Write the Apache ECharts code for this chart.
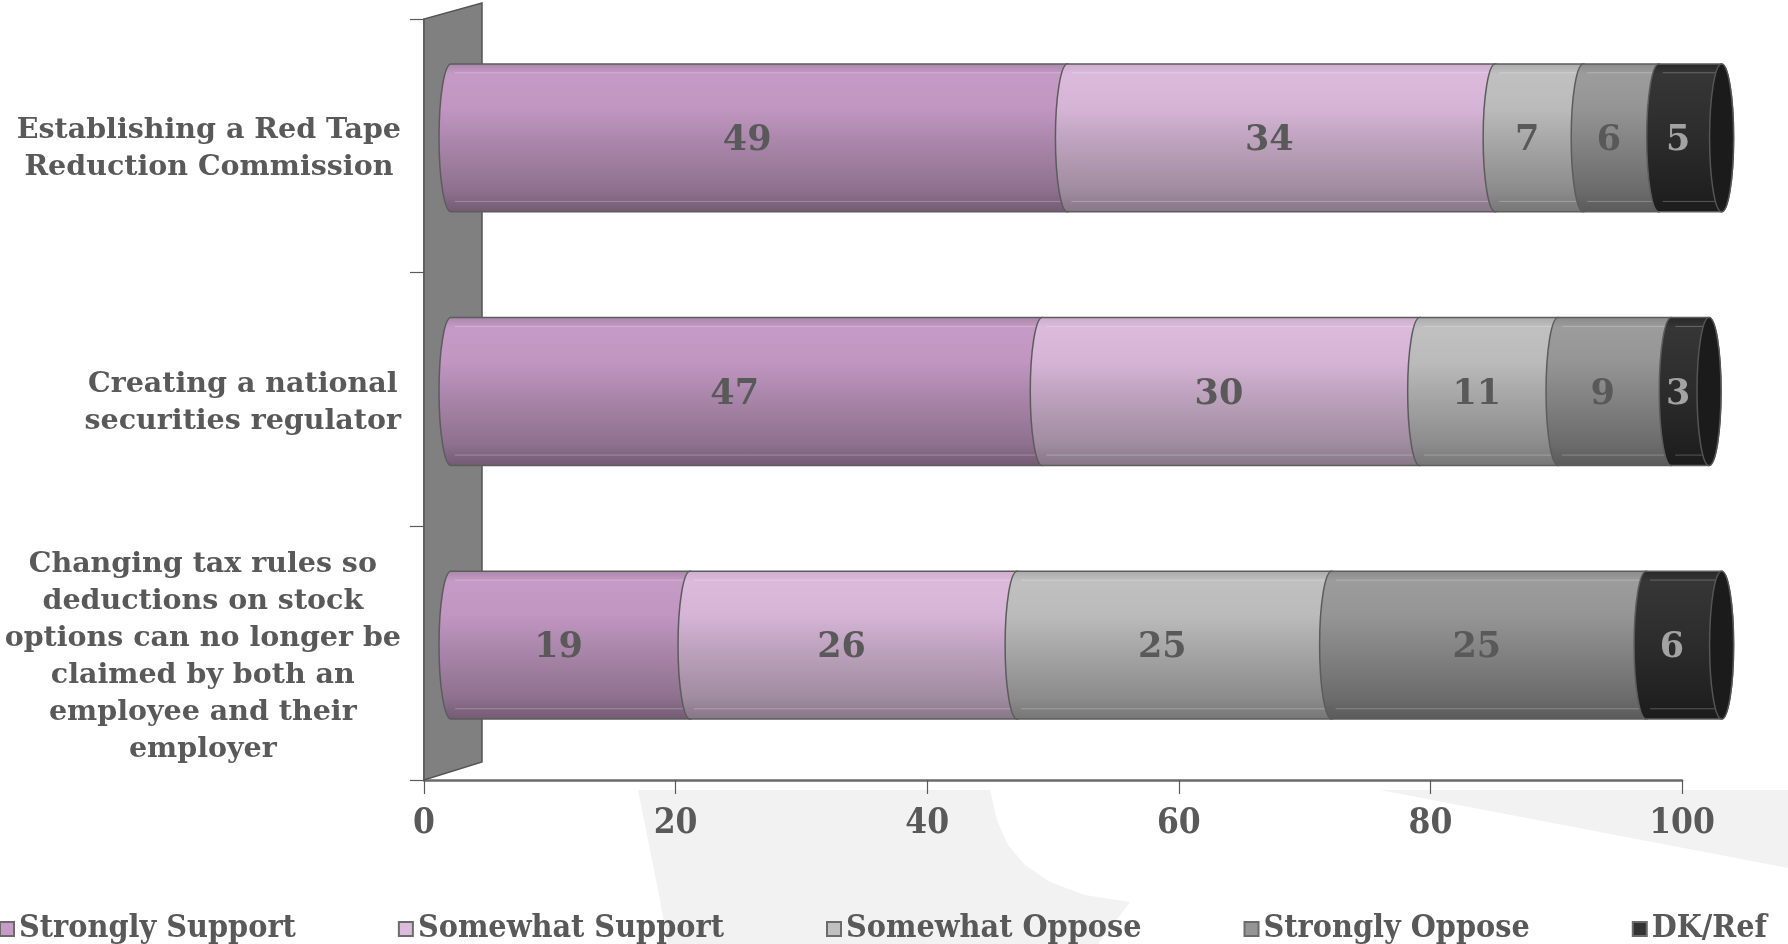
<!DOCTYPE html>
<html><head><meta charset="utf-8">
<script src="https://cdn.jsdelivr.net/npm/echarts@6/dist/echarts.min.js"></script>
<style>html,body{margin:0;padding:0;background:#fff}#c{width:1788px;height:944px}</style>
</head><body><div id="c"></div>
<script>
// ---- data ----
const categories = [
  'Establishing a Red Tape\nReduction Commission',
  'Creating a national\nsecurities regulator',
  'Changing tax rules so\ndeductions on stock\noptions can no longer be\nclaimed by both an\nemployee and their\nemployer'
];
const seriesNames = ['Strongly Support', 'Somewhat Support', 'Somewhat Oppose', 'Strongly Oppose', 'DK/Ref'];
const stronglySupport = [49, 47, 19];
const somewhatSupport = [34, 30, 26];
const somewhatOppose  = [7, 11, 25];
const stronglyOppose  = [6, 9, 25];
const dkRef           = [5, 3, 6];
const xMin = 0, xMax = 100, xStep = 20;

// ---- styles ----
const TXT = '#595959';
const CAT_FONT = "'DejaVu Serif', serif";
const COND_FONT = "'DejaVu Serif Condensed', 'DejaVu Serif', serif";
const legendColors = ['#c69cc6', '#dcbcdc', '#c0c0c0', '#959595', '#333333'];
const gradStops = [
  [[0,'#a886a8'],[0.07,'#c69ac6'],[0.3,'#c196c1'],[0.5,'#ad88ad'],[0.85,'#8e718e'],[1,'#735a73']],
  [[0,'#cbaecb'],[0.07,'#dcbadc'],[0.3,'#d6b4d6'],[0.5,'#c0a4c0'],[0.85,'#a08ca0'],[1,'#867686']],
  [[0,'#a9a9a9'],[0.07,'#c0c0c0'],[0.3,'#bbbbbb'],[0.5,'#a9a9a9'],[0.85,'#8c8c8c'],[1,'#767676']],
  [[0,'#8a8a8a'],[0.07,'#9c9c9c'],[0.3,'#959595'],[0.5,'#868686'],[0.85,'#6c6c6c'],[1,'#5a5a5a']],
  [[0,'#262626'],[0.07,'#363636'],[0.5,'#2c2c2c'],[1,'#1c1c1c']]
];
const labelColors = [TXT, TXT, TXT, TXT, '#a3a3a3'];
const DX = 27, DY = -8, RX = 12, BAR_RATIO = 0.583, LDX = 15, LDY = 3;
const K = 0.5523;

function mkGrad(stops){
  return new echarts.graphic.LinearGradient(0,0,0,1, stops.map(s=>({offset:s[0], color:s[1]})));
}

const allValues = [stronglySupport, somewhatSupport, somewhatOppose, stronglyOppose, dkRef];
const lastSeries = allValues.length - 1;

function makeRender(si){
  return function(params, api){
    const s = api.value(0), e = api.value(1), c = api.value(2), v = api.value(3);
    const p0 = api.coord([s, c]), p1 = api.coord([e, c]);
    const band = api.size([0, 1])[1];
    const hh = band * BAR_RATIO / 2;
    const x0 = p0[0] + DX, x1 = p1[0] + DX, yc = p0[1] + DY;
    const t = yc - hh, b = yc + hh;
    const path =
      `M${x0} ${t} L${x1} ${t} ` +
      `C${x1+RX*K} ${t} ${x1+RX} ${yc-hh*K} ${x1+RX} ${yc} ` +
      `C${x1+RX} ${yc+hh*K} ${x1+RX*K} ${b} ${x1} ${b} ` +
      `L${x0} ${b} ` +
      `C${x0-RX*K} ${b} ${x0-RX} ${yc+hh*K} ${x0-RX} ${yc} ` +
      `C${x0-RX} ${yc-hh*K} ${x0-RX*K} ${t} ${x0} ${t} Z`;
    const children = [{
      type: 'path', shape: { pathData: path },
      style: { fill: mkGrad(gradStops[si]), stroke: '#5c5c5c', lineWidth: 1.5 }
    }, {
      type: 'line', shape: { x1: x0 + 4, y1: t + hh*0.12, x2: x1 - 4, y2: t + hh*0.12 },
      style: { stroke: 'rgba(255,255,255,0.25)', lineWidth: 1 }
    }, {
      type: 'line', shape: { x1: x0 + 4, y1: b - hh*0.14, x2: x1 - 4, y2: b - hh*0.14 },
      style: { stroke: 'rgba(255,255,255,0.25)', lineWidth: 1 }
    }];
    if (si === lastSeries) {
      const cap =
        `M${x1} ${t} C${x1+RX*K} ${t} ${x1+RX} ${yc-hh*K} ${x1+RX} ${yc} ` +
        `C${x1+RX} ${yc+hh*K} ${x1+RX*K} ${b} ${x1} ${b} ` +
        `C${x1-RX*K} ${b} ${x1-RX} ${yc+hh*K} ${x1-RX} ${yc} ` +
        `C${x1-RX} ${yc-hh*K} ${x1-RX*K} ${t} ${x1} ${t} Z`;
      children.push({ type: 'path', shape: { pathData: cap },
        style: { fill: '#1b1b1b', stroke: '#555', lineWidth: 1.5 } });
    }
    children.push({
      type: 'text', x: (p0[0] + p1[0]) / 2 + LDX, y: yc + LDY,
      style: { text: String(v), fill: labelColors[si], fontFamily: CAT_FONT, fontWeight: 'bold',
               fontSize: 35, align: 'center', verticalAlign: 'middle' }
    });
    return { type: 'group', children };
  };
}

const cum = categories.map(() => 0);
const series = allValues.map((vals, si) => {
  const data = vals.map((v, ci) => { const s0 = cum[ci]; cum[ci] += v; return [s0, s0 + v, ci, v]; });
  return {
    type: 'custom', name: seriesNames[si], renderItem: makeRender(si), data,
    encode: { x: [0, 1], y: 2 }, z: 3 + si, silent: true,
    itemStyle: { color: legendColors[si], borderColor: '#6b6b6b', borderWidth: 1.5 }
  };
});

const chart = echarts.init(document.getElementById('c'), null, { renderer: 'canvas' });
const G = { left: 424, top: 19, right: 106, bottom: 164 };
const W = 1788, H = 944;
const gb = H - G.bottom;

chart.setOption({
  backgroundColor: '#ffffff',
  animation: false,
  grid: { left: G.left, top: G.top, right: G.right, bottom: G.bottom, containLabel: false },
  xAxis: {
    type: 'value', min: xMin, max: xMax, interval: xStep,
    axisLine: { show: true, lineStyle: { color: '#6b6b6b', width: 2.5 } },
    axisTick: { show: true, length: 14, lineStyle: { color: '#5a5a5a', width: 1.2 } },
    splitLine: { show: false },
    axisLabel: { margin: 26, color: TXT, fontFamily: COND_FONT, fontWeight: 'bold', fontSize: 35 }
  },
  yAxis: {
    type: 'category', data: categories, inverse: true,
    axisLine: { show: true, lineStyle: { color: '#5a5a5a', width: 1.5 } },
    axisTick: { show: true, length: 14, lineStyle: { color: '#5a5a5a', width: 1.2 } },
    axisLabel: {
      interval: 0, margin: 23, padding: [7, 0, 0, 0],
      formatter: (val) => val.split('\n').map(l => '{a|' + l + '}').join('\n'),
      rich: { a: { align: 'center', color: TXT, fontFamily: CAT_FONT, fontWeight: 'bold', fontSize: 28.5, lineHeight: 37 } }
    }
  },
  legend: {
    data: seriesNames, left: -6, top: 908, itemGap: 102, itemWidth: 14, itemHeight: 14,
    icon: 'rect', selectedMode: false,
    textStyle: { color: TXT, fontFamily: COND_FONT, fontWeight: 'bold', fontSize: 32 }
  },
  graphic: [
    { type: 'polygon', z: -10, silent: true,
      shape: { points: [[638,790],[990,790],[997,820],[1008,845],[1025,865],[1050,882],[1085,895],[1130,902],[1098,944],[668,944],[660,900],[650,850]] },
      style: { fill: '#f2f2f2' } },
    { type: 'polygon', z: -10, silent: true,
      shape: { points: [[1380, 790], [1788, 790], [1788, 868]] },
      style: { fill: '#f2f2f2' } },
    { type: 'polygon', z: 1, silent: true,
      shape: { points: [[G.left, gb], [G.left, G.top], [G.left + 58, G.top - 16], [G.left + 58, gb - 18]] },
      style: { fill: '#808080', stroke: '#555555', lineWidth: 1.5 } }
  ],
  series
});
</script></body></html>
